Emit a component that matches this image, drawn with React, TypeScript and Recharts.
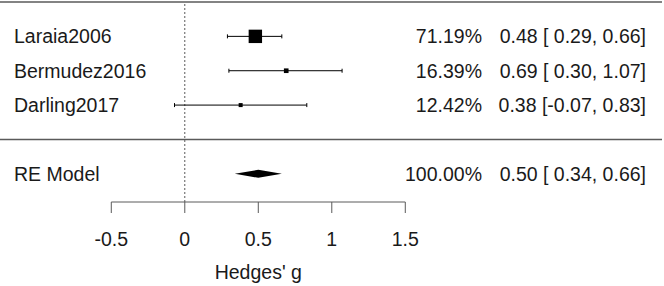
import {
  ComposedChart,
  Scatter,
  ErrorBar,
  XAxis,
  YAxis,
  ReferenceLine,
  ReferenceArea,
  ReferenceDot,
} from 'recharts';

const studies = ['Laraia2006', 'Bermudez2016', 'Darling2017'];
const rows = [3, 2, 1];
const estimates = [0.48, 0.69, 0.38];
const lower = [0.29, 0.3, -0.07];
const upper = [0.66, 1.07, 0.83];
const weights = [71.19, 16.39, 12.42];

const summaryLabel = 'RE Model';
const summaryRow = -1;
const summaryEst = 0.5;
const summaryLower = 0.34;
const summaryUpper = 0.66;
const summaryWeight = 100;

const xTicks = [-0.5, 0, 0.5, 1, 1.5];
const xTitle = "Hedges' g";

const FONT = '"Liberation Sans", Arial, sans-serif';
const FS = 19.5;
const TEXT = '#1a1a1a';
const LINE = '#5a5a5a';

const fmt = (v: number) => (v < 0 ? v.toFixed(2) : ' ' + v.toFixed(2));
const ciText = (e: number, l: number, u: number) => `${e.toFixed(2)} [${fmt(l)},${fmt(u)}]`;

const maxW = Math.max(...weights);
const minW = Math.min(...weights);
const squareSize = (w: number) => 4 + ((w - minW) / (maxW - minW)) * 9.4;

const studyData = studies.map((name, i) => ({
  name,
  x: estimates[i],
  y: rows[i],
  err: [estimates[i] - lower[i], upper[i] - estimates[i]],
  weight: weights[i],
  ci: ciText(estimates[i], lower[i], upper[i]),
}));

const summaryData = [
  {
    name: summaryLabel,
    x: summaryEst,
    y: summaryRow,
    weight: summaryWeight,
    ci: ciText(summaryEst, summaryLower, summaryUpper),
  },
];

const RowTexts = ({ cy, payload }: any) => (
  <g fontFamily={FONT} fontSize={FS} fill={TEXT} style={{ whiteSpace: 'pre' }}>
    <text x={14} y={cy + 7} textAnchor="start">
      {payload.name}
    </text>
    <text x={482} y={cy + 7} textAnchor="end">
      {payload.weight.toFixed(2) + '%'}
    </text>
    <text x={646} y={cy + 7} textAnchor="end" xmlSpace="preserve">
      {payload.ci}
    </text>
  </g>
);

const StudyShape = (props: any) => {
  const s = squareSize(props.payload.weight);
  return (
    <g>
      <rect x={props.cx - s / 2} y={props.cy - s / 2} width={s} height={s} fill="#000" />
      <RowTexts {...props} />
    </g>
  );
};

const Diamond = ({ x, y, width, height }: any) => (
  <polygon
    points={`${x},${y + height / 2} ${x + width / 2},${y} ${x + width},${y + height / 2} ${x + width / 2},${y + height}`}
    fill="#000"
  />
);

export default function App() {
  return (
    <div style={{ width: 664, height: 286 }}>
      <style>{'body{margin:0}'}</style>
      <ComposedChart width={664} height={286} margin={{ top: 2, right: 2, bottom: 0, left: 0 }}>
        <XAxis
          type="number"
          dataKey="x"
          domain={[-1.2571, 3.2463]}
          allowDataOverflow
          ticks={xTicks}
          axisLine={false}
          tickLine={{ stroke: LINE }}
          tickSize={11}
          tickMargin={19}
          height={84}
          tick={{ fontSize: FS, fill: TEXT, fontFamily: FONT }}
        />
        <YAxis type="number" dataKey="y" domain={[-1.82, 4]} allowDataOverflow hide />
        <ReferenceLine y={4} stroke={LINE} strokeWidth={1.5} />
        <ReferenceLine y={0} stroke={LINE} strokeWidth={1.5} />
        <ReferenceLine x={0} stroke={LINE} strokeDasharray="2 2" />
        <ReferenceLine
          segment={[
            { x: xTicks[0], y: -1.82 },
            { x: xTicks[xTicks.length - 1], y: -1.82 },
          ]}
          stroke={LINE}
        />
        <ReferenceArea
          x1={summaryLower}
          x2={summaryUpper}
          y1={summaryRow - 0.115}
          y2={summaryRow + 0.115}
          shape={<Diamond />}
        />
        <Scatter data={studyData} shape={<StudyShape />} isAnimationActive={false}>
          <ErrorBar dataKey="err" direction="x" width={2} stroke="#000" strokeWidth={1} />
        </Scatter>
        <Scatter data={summaryData} shape={<RowTexts />} isAnimationActive={false} />
        <ReferenceDot
          x={summaryEst}
          y={-4.06}
          ifOverflow="visible"
          shape={({ cx, cy }: any) => (
            <text x={cx} y={cy} textAnchor="middle" fontFamily={FONT} fontSize={FS} fill={TEXT}>
              {xTitle}
            </text>
          )}
        />
      </ComposedChart>
    </div>
  );
}
